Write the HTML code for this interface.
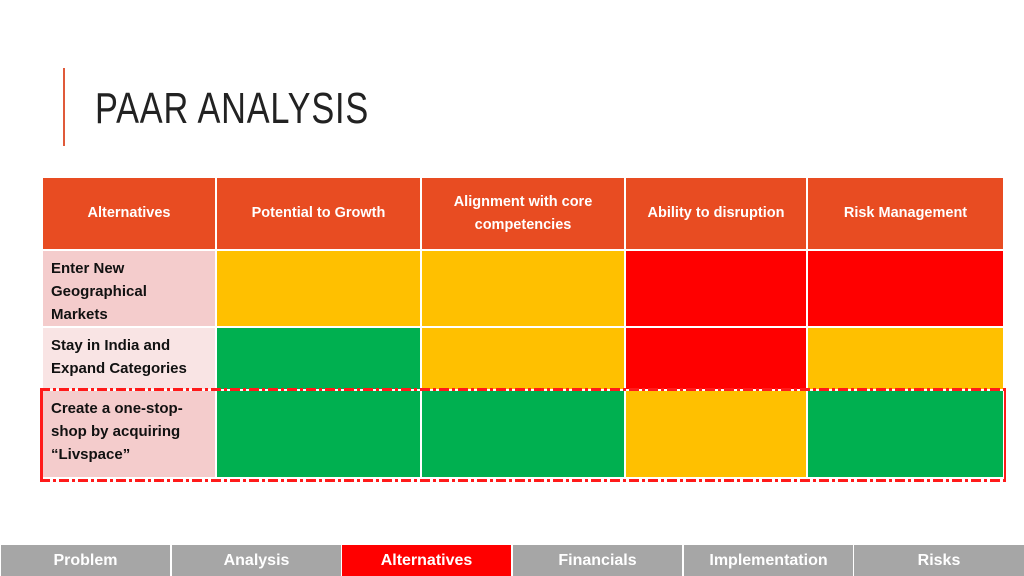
<!DOCTYPE html>
<html><head><meta charset="utf-8"><style>
body{margin:0;width:1024px;height:576px;background:#fff;position:relative;overflow:hidden;font-family:"Liberation Sans",sans-serif}
.abs{position:absolute}
.cell{position:absolute;box-sizing:border-box;display:flex;align-items:center;justify-content:center;text-align:center;font-weight:bold;font-size:14.5px;color:#fff;line-height:23px}
.lab{justify-content:flex-start;align-items:flex-start;text-align:left;color:#111;padding:6px 8px;font-size:15px}
.tab{position:absolute;top:545px;height:31px;width:170px;background:#a6a6a6;color:#fff;font-weight:bold;font-size:16px;display:flex;align-items:center;justify-content:center;border-left:1px solid #fff;box-sizing:border-box}
</style></head><body>
<div class="abs" style="left:63px;top:68px;width:2px;height:78px;background:#e05a3a"></div>
<div class="abs" style="left:95px;top:84px;font-size:44px;color:#222;letter-spacing:1px;transform:scaleX(0.78);transform-origin:left top;white-space:nowrap">PAAR ANALYSIS</div>
<div id="tbl"></div>
<div class="abs" style="left:40px;top:388px;width:961px;height:88px;border:3px dashed #ff1a1a;border-image:repeating-linear-gradient(90deg,#ff1a1a 0 10px,transparent 10px 13px,#ff1a1a 13px 16px,transparent 16px 19px) 3"></div>
<div class="tab" style="left:0">Problem</div>
<div class="tab" style="left:171px">Analysis</div>
<div class="tab" style="left:341px;background:#ff0000">Alternatives</div>
<div class="tab" style="left:512px">Financials</div>
<div class="tab" style="left:683px">Implementation</div>
<div class="tab" style="left:853px;width:171px">Risks</div>
<script>
const xs=[42,216,421,625,807,1004];
const ys=[177,250,327,390,478];
const headers=["Alternatives","Potential to Growth","Alignment with core<br>competencies","Ability to disruption","Risk Management"];
const rows=["Enter New<br>Geographical<br>Markets","Stay in India and<br>Expand Categories","Create a one-stop-<br>shop by acquiring<br>“Livspace”"];
const ratings=[["Y","Y","R","R"],["G","Y","R","Y"],["G","G","Y","G"]];
const col={Y:"#ffc000",G:"#00b050",R:"#ff0000"};
const labBg=["#f4cccc","#f9e4e4","#f4cccc"];
const t=document.getElementById('tbl');
function mk(x0,x1,y0,y1,bg,html,cls){
 const d=document.createElement('div');d.className='cell '+(cls||'');
 d.style.cssText=`left:${x0}px;top:${y0}px;width:${x1-x0}px;height:${y1-y0}px;background:${bg};border:1px solid #fff`;
 d.innerHTML=html;t.appendChild(d);return d;}
headers.forEach((h,i)=>{const d=mk(xs[i],xs[i+1],ys[0],ys[1],"#e84c22",h);

});
rows.forEach((r,j)=>{const d=mk(xs[0],xs[1],ys[j+1],ys[j+2],labBg[j],r,'lab');


ratings[j].forEach((v,i)=>{const c=mk(xs[i+1],xs[i+2],ys[j+1],ys[j+2],col[v],"");

});});
</script>
</body></html>
